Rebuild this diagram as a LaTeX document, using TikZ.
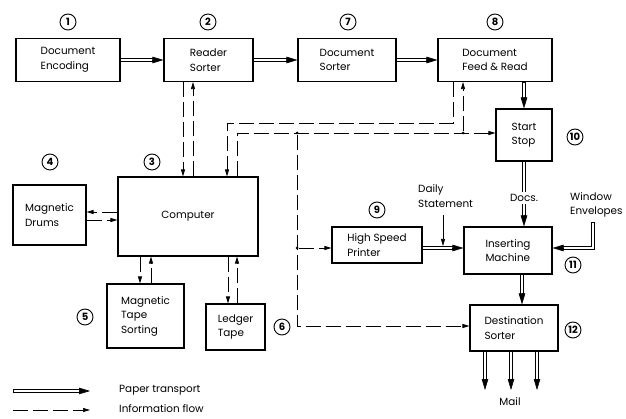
\documentclass[tikz,border=0pt]{standalone}
\usepackage{fontspec}
\setmainfont{Poppins}
\usetikzlibrary{arrows.meta,calc}
\newcommand\fs{\fontsize{10.4}{14.5}\selectfont}
\newcommand\numfs{\fontsize{10}{10}\selectfont\bfseries}
\newcommand\pline[1]{\draw[pout] #1; \draw[pin] #1;}
\begin{document}
\begin{tikzpicture}[x=1pt,y=-1pt,
  box/.style={draw, line width=1.1pt, inner sep=0pt, align=left, font=\fs},
  num/.style={draw, circle, line width=0.9pt, minimum size=16pt, inner sep=0pt, font=\numfs},
  pout/.style={line width=4pt, shorten >=7pt},
  pin/.style={line width=2pt, white, shorten >=7pt, shorten <=0.6pt},
  ptip/.style={-{Triangle[length=11pt,width=6.5pt]}, line width=0.6pt},
  info/.style={line width=0.7pt, dash pattern=on 15pt off 5pt, -{Triangle[length=7pt,width=4pt]}},
  dot/.style={circle, fill, inner sep=0pt, minimum size=3pt},
  lbl/.style={align=left, font=\fs, inner sep=1pt}
]
\useasboundingbox (0,0) rectangle (626,419);
% boxes
\node[box, minimum width=104pt, minimum height=43pt] (enc) at (68,60) {Document\\Encoding};
\node[box, minimum width=89pt, minimum height=43pt] (rs) at (208.5,60) {Reader\\Sorter};
\node[box, minimum width=98pt, minimum height=43pt] (ds) at (347,60) {Document\\Sorter};
\node[box, minimum width=114pt, minimum height=43pt] (dfr) at (495,60) {Document\\Feed \& Read};
\node[box, minimum width=56pt, minimum height=52pt] (ss) at (524,135) {Start\\Stop};
\node[box, minimum width=140pt, minimum height=79pt] (comp) at (188,216.5) {Computer};
\node[box, minimum width=73pt, minimum height=60pt] (drums) at (49.5,215) {Magnetic\\Drums};
\node[box, minimum width=77pt, minimum height=64pt] (tape) at (145.5,316) {Magnetic\\Tape\\Sorting};
\node[box, minimum width=59pt, minimum height=46pt] (ledger) at (235.5,327) {Ledger\\Tape};
\node[box, minimum width=90pt, minimum height=36pt] (printer) at (377,245) {High Speed\\Printer};
\node[box, minimum width=88pt, minimum height=47pt] (insert) at (508,250.5) {Inserting\\Machine};
\node[box, minimum width=88pt, minimum height=46pt] (dest) at (514,328) {Destination\\Sorter};
% numbers
\node[num] (n1) at (68,22) {1};
\node[num] (n2) at (208,22) {2};
\node[num] (n7) at (348,22) {7};
\node[num] (n8) at (495,22) {8};
\node[num] (n10) at (575,137) {10};
\node[num] (n3) at (152,162) {3};
\node[num] (n4) at (50,162) {4};
\node[num] (n5) at (85,317) {5};
\node[num] (n6) at (282,327) {6};
\node[num] (n9) at (377,210) {9};
\node[num] (n11) at (573,265) {11};
\node[num] (n12) at (573,330) {12};
% columns and rows
\coordinate (xa) at (183,0);
\coordinate (xb) at (193,0);
\coordinate (xc) at (227,0);
\coordinate (xc2) at (228,0);
\coordinate (xd) at (237,0);
\coordinate (xe) at (297,0);
\coordinate (xf) at (453,0);
\coordinate (xg) at (463,0);
\coordinate (xh) at (140,0);
\coordinate (xi) at (151,0);
\coordinate (xm) at (522,0);
\coordinate (ya) at (0,123);
\coordinate (yb) at (0,133);
\coordinate (yc) at (0,212);
\coordinate (yd) at (0,220);
\coordinate (ye) at (0,248);
\coordinate (yf) at (0,326);
% paper transport
\pline{(enc.east) -- (rs.west)} \draw[ptip] ($(rs.west)+(-11,0)$) -- (rs.west);
\pline{(rs.east) -- (ds.west)} \draw[ptip] ($(ds.west)+(-11,0)$) -- (ds.west);
\pline{(ds.east) -- (dfr.west)} \draw[ptip] ($(dfr.west)+(-11,0)$) -- (dfr.west);
\coordinate (ssin) at (ss.north |- dfr.south);
\pline{(ssin) -- (ss.north)} \draw[ptip] ($(ss.north)+(0,-11)$) -- (ss.north);
\coordinate (insin) at (ss.south |- insert.north);
\pline{(ss.south) -- (insin)} \draw[ptip] ($(insin)+(0,-11)$) -- (insin);
\node[lbl, fill=white, inner sep=2pt] (docs) at (524,198) {Docs.};
\coordinate (prout) at (printer.east |- ye);
\coordinate (insw) at (insert.west |- ye);
\pline{(prout) -- (insw)} \draw[ptip] ($(insw)+(-11,0)$) -- (insw);
\node[lbl, anchor=west] (daily) at (417,196) {Daily\\Statement};
\coordinate (dtop) at (443,215);
\draw[-{Triangle[length=7pt,width=4pt]}, line width=0.7pt, shorten >=2pt] (dtop) -- (dtop |- ye);
\node[lbl, anchor=west] (win) at (569,205) {Window\\Envelopes};
\coordinate (wtop) at (593,222);
\coordinate (inse) at (insert.east |- ye);
\pline{(wtop) -- (wtop |- ye) -- (inse)} \draw[ptip] ($(inse)+(11,0)$) -- (inse);
\coordinate (insout) at (insert.south -| xm);
\coordinate (destin) at (dest.north -| xm);
\pline{(insout) -- (destin)} \draw[ptip] ($(destin)+(0,-11)$) -- (destin);
\coordinate (m1) at (485,390);
\coordinate (m2) at (511,390);
\coordinate (m3) at (537,390);
\foreach \m in {m1,m2,m3}{
  \pline{(dest.south -| \m) -- (\m)} \draw[ptip] ($(\m)+(0,-11)$) -- (\m);
}
\node[lbl] (mail) at (510,402) {Mail};
% information flow
\draw[info] (rs.south -| xa) -- (comp.north -| xa);
\draw[info] (comp.north -| xb) -- (rs.south -| xb);
\draw[info] (dfr.south -| xf) -- (xf |- ya) -- (xc |- ya) -- (comp.north -| xc);
\draw[info] (comp.north -| xd) -- (xd |- yb) -- (ss.west |- yb);
\node[dot] (d1) at (xe |- yb) {};
\node[dot] (d2) at (xg |- yb) {};
\node[dot] (d3) at (xe |- ye) {};
\draw[info] (d2) -- (dfr.south -| xg);
\draw[info] (d1) -- (xe |- yf) -- (dest.west |- yf);
\draw[info] (d3) -- (printer.west |- ye);
\draw[info] (comp.west |- yc) -- (drums.east |- yc);
\draw[info] (drums.east |- yd) -- (comp.west |- yd);
\draw[info] (comp.south -| xh) -- (tape.north -| xh);
\draw[info] (tape.north -| xi) -- (comp.south -| xi);
\draw[info] (comp.south -| xc2) -- (ledger.north -| xc2);
\draw[info] (ledger.north -| xd) -- (comp.south -| xd);
% legend
\coordinate (lp1) at (13,391);
\coordinate (lp2) at (90,391);
\pline{(lp1) -- (lp2)} \draw[ptip] ($(lp2)+(-11,0)$) -- (lp2);
\node[lbl, anchor=west] (lpt) at (118,390) {Paper transport};
\coordinate (li1) at (13,410);
\coordinate (li2) at (90,410);
\draw[info] (li1) -- (li2);
\node[lbl, anchor=west] (lif) at (118,409) {Information flow};
\end{tikzpicture}
\end{document}
